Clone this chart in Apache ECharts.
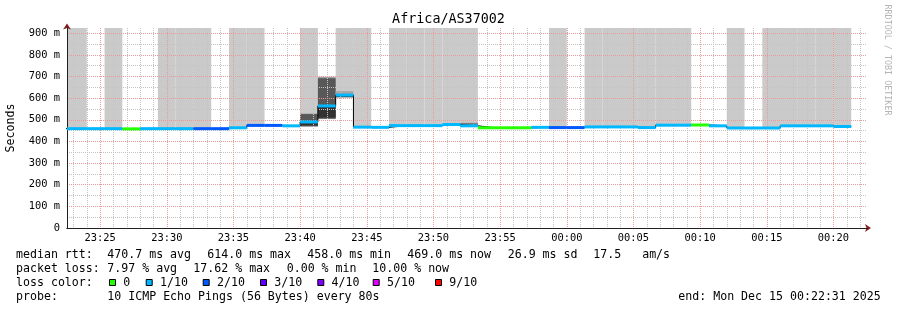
<!DOCTYPE html>
<html><head><meta charset="utf-8">
<script src="https://cdn.jsdelivr.net/npm/echarts@6/dist/echarts.min.js"></script>
<style>html,body{margin:0;padding:0;background:#fff}#c{width:897px;height:310px}</style>
</head><body><div id="c"></div>
<script>
// ---------- data ----------
const chartTitle = 'Africa/AS37002';
const yAxisName = 'Seconds';
// time axis in minutes after 23:00:00
const viewStartMin = 22 + 31 / 60;          // 23:22:31
const viewEndMin = viewStartMin + 60;       // 00:22:31
const firstStepStartMin = 21 + 20 / 60;     // 23:21:20
const stepMinutes = 80 / 60;                // 80 s steps
const yMaxMs = 924;

// median rtt per 80 s step (ms)
const medianRtt = [459, 459, 459, 459, 458, 459, 459, 459, 459, 459,
                   463, 474, 474, 472, 490, 564, 614, 466, 465, 473,
                   473, 473, 478, 472, 463, 463, 463, 465, 464, 464,
                   467, 467, 467, 464, 475, 475, 476, 472, 462, 462,
                   462, 472, 472, 472, 469];
// lost pings per step (out of 10)
const lossTenths = [1, 1, 1, 1, 0, 1, 1, 1, 2, 2,
                    1, 2, 2, 1, 1, 1, 1, 1, 1, 1,
                    1, 1, 1, 1, 0, 0, 0, 1, 2, 2,
                    1, 1, 1, 1, 1, 1, 0, 1, 1, 1,
                    1, 1, 1, 1, 1];
// steps whose outer smoke band reaches above the graph top
const smokeToTop = [1, 1, 0, 1, 0, 0, 1, 1, 1, 0,
                    1, 1, 0, 0, 1, 0, 1, 1, 0, 1,
                    1, 1, 1, 1, 0, 0, 0, 0, 1, 0,
                    1, 1, 1, 1, 1, 1, 0, 0, 1, 0,
                    1, 1, 1, 1, 1];
// additional visible smoke bands
const smokeBandStep  = [14, 14, 14, 15, 15, 15, 16, 16, 23];
const smokeBandLo    = [468, 472, 474, 503, 505, 510, 604, 604, 476];
const smokeBandHi    = [528, 526, 486, 699, 692, 563, 632, 610, 486];
const smokeBandShade = [2, 3, 4, 1, 3, 4, 1, 4, 2];

const lossLabels = ['0', '1/10', '2/10', '3/10', '4/10', '5/10', '9/10'];
const lossColors = ['#26ff00', '#00b8ff', '#0059ff', '#5e00ff', '#7e00ff', '#dd00ff', '#ff0000'];
const smokeShades = ['#cacaca', '#a4a4a4', '#7e7e7e', '#585858', '#323232'];

const rttStats = ['470.7 ms avg', '614.0 ms max', '458.0 ms min', '469.0 ms now', '26.9 ms sd', '17.5   am/s'];
const lossStats = ['7.97 % avg', '17.62 % max', '0.00 % min', '10.00 % now'];
const probeText = '10 ICMP Echo Pings (56 Bytes) every 80s';
const endText = 'end: Mon Dec 15 00:22:31 2025';
const watermark = 'RRDTOOL / TOBI OETIKER';

// ---------- layout ----------
const MONO = '"DejaVu Sans Mono", monospace';
const LEG_FONT = '11.6px ' + MONO;
const rowY = [254.5, 268.5, 282.5, 296.5];
const rttX = [107.3, 207.3, 307.3, 407.3, 507.7, 593.3];
const lossX = [107.3, 193.3, 286.7, 372.3];
const swatchX = [109, 145.7, 202.7, 260, 317.3, 372.7, 435];

function stepStart(i) { return firstStepStartMin + i * stepMinutes; }

const smokeData = [];
medianRtt.forEach((m, i) => { if (smokeToTop[i]) smokeData.push([stepStart(i), stepStart(i + 1), m, yMaxMs, 0]); });
smokeBandStep.forEach((s, j) => smokeData.push([stepStart(s), stepStart(s + 1), smokeBandLo[j], smokeBandHi[j], smokeBandShade[j]]));

const bandData = medianRtt.map((m, i) => [stepStart(i), stepStart(i + 1), m, lossTenths[i]]);
const lineData = medianRtt.map((m, i) => [stepStart(i), m]);
lineData.push([stepStart(medianRtt.length), medianRtt[medianRtt.length - 1]]);

function clipTo(params, r) {
  const cs = params.coordSys;
  return echarts.graphic.clipRectByRect(r, { x: cs.x, y: cs.y, width: cs.width, height: cs.height });
}

function fmtTime(v) {
  const t = Math.round(v);
  const h = (23 + Math.floor(t / 60)) % 24, m = ((t % 60) + 60) % 60;
  return String(h).padStart(2, '0') + ':' + String(m).padStart(2, '0');
}

const graphics = [];
function txt(x, y, s) {
  graphics.push({ type: 'text', x: x, y: y, silent: true,
    style: { text: s, font: LEG_FONT, fill: '#000', verticalAlign: 'middle', align: 'left' } });
}
txt(16, rowY[0], 'median rtt:');
rttStats.forEach((s, j) => txt(rttX[j], rowY[0], s));
txt(16, rowY[1], 'packet loss:');
lossStats.forEach((s, j) => txt(lossX[j], rowY[1], s));
txt(16, rowY[2], 'loss color:');
lossLabels.forEach((s, j) => {
  graphics.push({ type: 'rect', silent: true,
    shape: { x: swatchX[j] + 0.5, y: rowY[2] - 3, width: 6, height: 6 },
    style: { fill: lossColors[j], stroke: '#000', lineWidth: 1 } });
  txt(swatchX[j] + 14.3, rowY[2], s);
});
txt(16, rowY[3], 'probe:');
txt(107.3, rowY[3], probeText);
txt(678.3, rowY[3], endText);
graphics.push({ type: 'text', x: 887.5, y: 60, rotation: -Math.PI / 2, silent: true,
  style: { text: watermark, font: '8.4px ' + MONO, fill: '#b4b4b4', align: 'center', verticalAlign: 'middle' } });

const MAJOR = '#e99a9a', MINOR = '#c4c4c4', AXIS = '#1f1f1f', ARROW = '#801f1f';

const option = {
  animation: false,
  backgroundColor: '#ffffff',
  title: { text: chartTitle, left: 'center', top: 12, padding: 0, itemGap: 0,
    textStyle: { fontFamily: MONO, fontSize: 13.4, fontWeight: 'normal', color: '#000', lineHeight: 15 } },
  grid: { left: 67, top: 28, width: 800, height: 200, outerBoundsMode: 'none' },
  xAxis: [
    { type: 'value', min: viewStartMin, max: viewEndMin, minInterval: 5, maxInterval: 5, position: 'bottom', z: 4,
      axisLine: { show: true, onZero: false, lineStyle: { color: AXIS, width: 1 } },
      axisTick: { show: false },
      axisLabel: { formatter: fmtTime, margin: 5, fontFamily: MONO, fontSize: 10.4, color: '#000',
        showMinLabel: false, showMaxLabel: false },
      splitLine: { show: true, showMinLine: false, showMaxLine: false,
        lineStyle: { color: MAJOR, width: 1, type: [1, 1] } } },
    { type: 'value', min: viewStartMin, max: viewEndMin, minInterval: 1, maxInterval: 1, position: 'bottom', z: 3,
      axisLine: { show: true, onZero: false, symbol: ['none', 'arrow'], symbolSize: [6, 6], symbolOffset: [0, 4],
        lineStyle: { color: ARROW, width: 1 } },
      axisTick: { show: false }, axisLabel: { show: false },
      splitLine: { show: true, showMinLine: false, showMaxLine: false,
        lineStyle: { color: MINOR, width: 1, type: [1, 1] } } }
  ],
  yAxis: [
    { type: 'value', min: 0, max: yMaxMs, interval: 100, position: 'left', z: 4,
      name: yAxisName, nameLocation: 'middle', nameGap: 50, nameRotate: 90,
      nameTextStyle: { fontFamily: MONO, fontSize: 11.6, color: '#000' },
      axisLine: { show: true, lineStyle: { color: AXIS, width: 1 } },
      axisTick: { show: false },
      axisLabel: { formatter: v => (v === 0 ? '0' : v + ' m'), margin: 7, fontFamily: MONO, fontSize: 10.4,
        color: '#000', showMaxLabel: false },
      splitLine: { show: true, showMinLine: false, showMaxLine: false,
        lineStyle: { color: MAJOR, width: 1, type: [1, 1] } } },
    { type: 'value', min: 0, max: yMaxMs, interval: 50, position: 'left', z: 3,
      axisLine: { show: true, symbol: ['none', 'arrow'], symbolSize: [6, 6], symbolOffset: [0, 4.5],
        lineStyle: { color: ARROW, width: 1 } },
      axisTick: { show: false }, axisLabel: { show: false },
      splitLine: { show: true, showMinLine: false, showMaxLine: false,
        lineStyle: { color: MINOR, width: 1, type: [1, 1] } } }
  ],
  series: [
    { type: 'custom', name: 'smoke', xAxisIndex: 0, yAxisIndex: 0, z: 1, silent: true,
      encode: { x: [0, 1], y: [2, 3] }, data: smokeData,
      renderItem: (params, api) => {
        const p0 = api.coord([api.value(0), api.value(2)]);
        const p1 = api.coord([api.value(1), api.value(3)]);
        const r = clipTo(params, { x: p0[0], y: p1[1], width: p1[0] - p0[0], height: p0[1] - p1[1] });
        return r && { type: 'rect', shape: r, style: { fill: smokeShades[api.value(4)] } };
      } },
    { type: 'line', name: 'median line', xAxisIndex: 0, yAxisIndex: 0, z: 5, silent: true,
      data: lineData, step: 'end', symbol: 'none', clip: true,
      lineStyle: { color: '#000', width: 1 } },
    { type: 'custom', name: 'median rtt', xAxisIndex: 0, yAxisIndex: 0, z: 6, silent: true,
      encode: { x: [0, 1], y: 2 }, data: bandData,
      renderItem: (params, api) => {
        const p0 = api.coord([api.value(0), api.value(2)]);
        const p1 = api.coord([api.value(1), api.value(2)]);
        const r = clipTo(params, { x: p0[0], y: p0[1] - 1.5, width: p1[0] - p0[0], height: 3 });
        return r && { type: 'rect', shape: r, style: { fill: lossColors[api.value(3)] } };
      } }
  ],
  graphic: graphics
};

const chart = echarts.init(document.getElementById('c'), null, { renderer: 'canvas' });
chart.setOption(option);
</script>
</body></html>
